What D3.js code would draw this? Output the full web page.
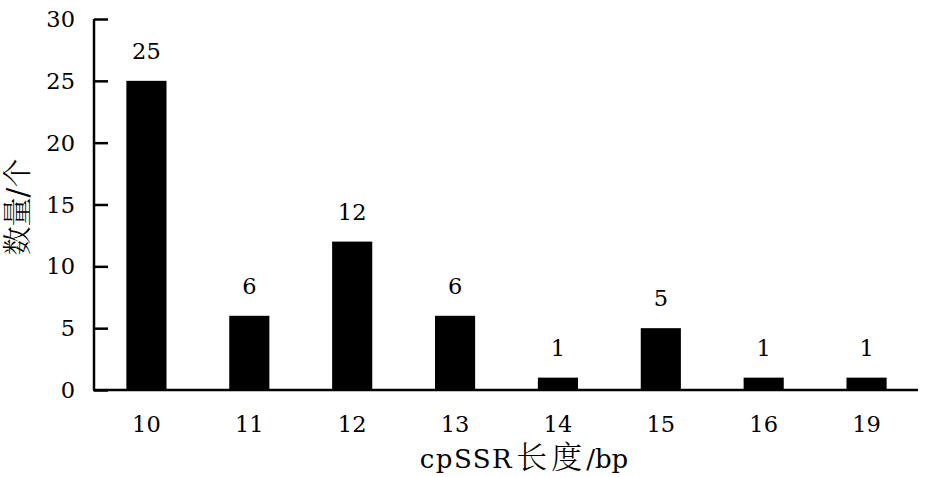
<!DOCTYPE html>
<html><head><meta charset="utf-8">
<script src="https://cdn.jsdelivr.net/npm/d3@7"></script>
<style>body{margin:0;background:#fff;} text{font-family:"DejaVu Serif","Noto Serif CJK SC",serif;fill:#000;}</style>
</head><body>
<svg id="c" width="936" height="477"></svg>
<script>
const categories = ["10","11","12","13","14","15","16","19"];
const values = [25,6,12,6,1,5,1,1];
const yTicks = [0,5,10,15,20,25,30];
const xTitleParts = ["cpSSR","长度","/bp"];
const yTitle = "数量/个";

const svg = d3.select("#c");
const x = d3.scaleBand().domain(categories).range([95,918]).paddingInner(0.61).paddingOuter(0.305);
const y = d3.scaleLinear().domain([0,30]).range([390,19]);

svg.selectAll("rect.bar").data(values).enter().append("rect")
  .attr("x",(d,i)=>x(categories[i])).attr("width",x.bandwidth())
  .attr("y",d=>y(d)).attr("height",d=>y(0)-y(d)).attr("fill","#000");

svg.selectAll("text.val").data(values).enter().append("text")
  .attr("x",(d,i)=>x(categories[i])+x.bandwidth()/2).attr("y",d=>y(d)-22)
  .attr("text-anchor","middle").attr("font-size",22.5).text(d=>d);

const ya = svg.append("g").attr("transform","translate(94,0)")
  .call(d3.axisRight(y).tickValues(yTicks).tickSize(14).tickFormat(""));
ya.select(".domain").attr("stroke-width",2.5).attr("d","M0,19V390");
ya.selectAll(".tick line").attr("stroke-width",2.5);

svg.selectAll("text.ytl").data(yTicks).enter().append("text")
  .attr("x",75).attr("y",d=>y(d)+8).attr("text-anchor","end").attr("font-size",22.5).text(d=>d);

const xa = svg.append("g").attr("transform","translate(0,390)")
  .call(d3.axisBottom(x).tickSize(0).tickPadding(0).tickFormat(""));
xa.select(".domain").attr("stroke-width",2.5).attr("d","M93,0H918");

svg.selectAll("text.xtl").data(categories).enter().append("text")
  .attr("x",d=>x(d)+x.bandwidth()/2).attr("y",432).attr("text-anchor","middle").attr("font-size",22.5).text(d=>d);

const xt = svg.append("text").attr("x",524).attr("y",468).attr("text-anchor","middle");
xt.append("tspan").attr("font-size",26).attr("letter-spacing",1.5).text(xTitleParts[0]);
xt.append("tspan").attr("font-size",31).attr("font-weight",300).attr("dx",3).attr("letter-spacing",4).text(xTitleParts[1]);
xt.append("tspan").attr("font-size",26).text(xTitleParts[2]);

svg.append("text").attr("transform","translate(28,207) rotate(-90)").attr("text-anchor","middle").attr("font-size",29)
  .attr("font-weight",300).text(yTitle);
</script></body></html>
